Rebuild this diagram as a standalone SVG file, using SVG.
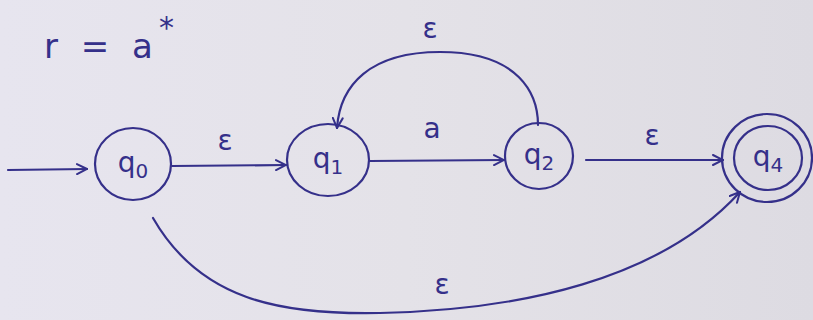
<svg xmlns="http://www.w3.org/2000/svg" width="813" height="320" viewBox="0 0 813 320">
  <style>
    .state { fill: none; stroke: #35308a; stroke-width: 2.2; }
    .edge { fill: none; stroke: #35308a; stroke-width: 2.2; stroke-linecap: round; }
    .lbl { font-family: "DejaVu Sans", sans-serif; font-size: 28px; fill: #35308a; text-anchor: middle; }
    .sub { font-size: 20px; }
  </style>
  <defs>
    <linearGradient id="bg" x1="0" y1="0" x2="1" y2="0">
      <stop offset="0" stop-color="#e7e5ef"/>
      <stop offset="0.5" stop-color="#e4e2e8"/>
      <stop offset="1" stop-color="#dddbe2"/>
    </linearGradient>
    <marker id="arr" viewBox="0 0 12 12" refX="11" refY="6" markerWidth="12" markerHeight="12" markerUnits="userSpaceOnUse" orient="auto">
      <path d="M1,1 L11,6 L1,11" fill="none" stroke="#35308a" stroke-width="2" stroke-linecap="round"/>
    </marker>
  </defs>
  <rect width="813" height="320" fill="url(#bg)"/>
  <text class="lbl" x="44" y="58" style="text-anchor:start;font-size:34px;letter-spacing:6px">r = a<tspan dx="0" dy="-20" style="font-size:30px">*</tspan></text>
  <g id="connectors">
    <path class="edge" d="M8,170 L87,169" marker-end="url(#arr)"/>
    <path class="edge" d="M172,166 L286,165" marker-end="url(#arr)"/>
    <text class="lbl" x="225" y="150">ε</text>
    <path class="edge" d="M370,161 L504,160" marker-end="url(#arr)"/>
    <text class="lbl" x="432" y="138">a</text>
    <path class="edge" d="M586,160 L723,160" marker-end="url(#arr)"/>
    <text class="lbl" x="652" y="145">ε</text>
    <path class="edge" d="M538,125 C538,95 520,52 440,52 C370,52 340,85 337,128" marker-end="url(#arr)"/>
    <text class="lbl" x="430" y="38">ε</text>
    <path class="edge" d="M153,218 C200,300 280,315 380,313 C520,310 660,280 740,192" marker-end="url(#arr)"/>
    <text class="lbl" x="442" y="294">ε</text>
  </g>
  <g id="q0">
    <ellipse class="state" cx="133" cy="164" rx="38" ry="36"/>
    <text class="lbl" x="133" y="172">q<tspan class="sub" dy="6">0</tspan></text>
  </g>
  <g id="q1">
    <ellipse class="state" cx="328" cy="160" rx="41" ry="36"/>
    <text class="lbl" x="328" y="168">q<tspan class="sub" dy="6">1</tspan></text>
  </g>
  <g id="q2">
    <ellipse class="state" cx="539" cy="156" rx="34" ry="33"/>
    <text class="lbl" x="539" y="164">q<tspan class="sub" dy="6">2</tspan></text>
  </g>
  <g id="q4">
    <ellipse class="state" cx="767" cy="158" rx="45" ry="44"/>
    <ellipse class="state" cx="768" cy="158" rx="34" ry="32"/>
    <text class="lbl" x="768" y="166">q<tspan class="sub" dy="6">4</tspan></text>
  </g>
</svg>
